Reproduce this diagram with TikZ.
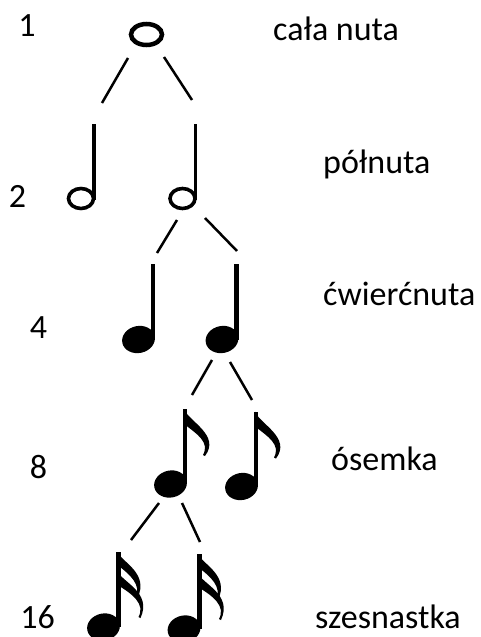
\documentclass[tikz,border=0pt]{standalone}
\usepackage{fontspec}
\setmainfont{Carlito}
\begin{document}
\begin{tikzpicture}[x=1pt,y=-1pt,
  lbl/.style={inner sep=0pt, font=\fontsize{34}{40}\selectfont},
  conn/.style={line width=2.5pt},
  hollowhead/.style={line width=#1},
  stemline/.style={line width=#1},
  filledhead/.style={rotate around={12:#1}},
  eighthflag/.pic={\fill (-1,0) .. controls (3,12) and (36,26) .. (20,47) -- (18,46) .. controls (25,33) and (12,25) .. (-1,15) -- cycle;},
  sixteenthflag/.pic={
    \fill (-1,0) .. controls (3,10) and (31,21) .. (19,46) -- (17,45) .. controls (23,33) and (12,23) .. (-1,13) -- cycle;
    \fill (-1,19) .. controls (3,30) and (34,40) .. (22,66) -- (20,65) .. controls (27,52) and (14,42) .. (-1,33) -- cycle;},
]
\useasboundingbox (0,0) rectangle (481,637);
\begin{scope}
\clip (0,0) rectangle (481,637);
% whole note
\coordinate (w) at (146.5,34.5);
\draw[hollowhead=4.5pt] (w) ellipse [x radius=15.5pt, y radius=10.5pt];
% half notes
\coordinate (h1) at (81,198.5);
\coordinate (h2) at (182.5,198.5);
\foreach \n in {h1,h2}{
  \draw[hollowhead=3.6pt] (\n) ellipse [x radius=12.5pt, y radius=10pt];
  \draw[stemline=3.5pt] (\n) ++(12.8,1) -- ++(0,-76);
}
% quarter notes
\coordinate (q1) at (138.5,339.5);
\coordinate (q2) at (222,339.5);
\foreach \n in {q1,q2}{
  \fill[filledhead=(\n)] (\n) ellipse [x radius=16.5pt, y radius=13.5pt];
  \draw[stemline=4.5pt] (\n) ++(14.5,0) -- ++(0,-76);
}
% eighth notes
\coordinate (e1) at (170.5,484);
\coordinate (e2) at (241.5,486.5);
\foreach \n in {e1,e2}{
  \fill[filledhead=(\n)] (\n) ellipse [x radius=16.5pt, y radius=13.5pt];
  \draw[stemline=4.5pt] (\n) ++(14.5,0) -- ++(0,-75);
  \path (\n) ++(14.5,-75) pic {eighthflag};
}
% sixteenth notes
\coordinate (s1) at (103.5,627);
\coordinate (s2) at (184,629);
\foreach \n in {s1,s2}{
  \fill[filledhead=(\n)] (\n) ellipse [x radius=16.5pt, y radius=13.5pt];
  \draw[stemline=5pt] (\n) ++(15,0) -- ++(0,-75);
  \path (\n) ++(15,-75) pic {sixteenthflag};
}
\end{scope}
% connectors
\coordinate (a1) at (128,58);  \coordinate (b1) at (102,103);
\coordinate (a2) at (164,57);  \coordinate (b2) at (192,100);
\coordinate (a3) at (177,220); \coordinate (b3) at (157,253);
\coordinate (a4) at (205,218); \coordinate (b4) at (237,251);
\coordinate (a5) at (212,360); \coordinate (b5) at (192,395);
\coordinate (a6) at (230,362); \coordinate (b6) at (252,400);
\coordinate (a7) at (159,503); \coordinate (b7) at (131,540);
\coordinate (a8) at (182,503); \coordinate (b8) at (200,542);
\foreach \i in {1,...,8}{ \draw[conn] (a\i) -- (b\i); }
% labels
\node[lbl, anchor=base] (n1) at (27,36) {1};
\node[lbl, anchor=base] (n2) at (17.5,207) {2};
\node[lbl, anchor=base] (n4) at (38.5,338) {4};
\node[lbl, anchor=base] (n8) at (38.5,478) {8};
\node[lbl, anchor=base] (n16) at (37.5,628) {16};
\node[lbl, anchor=base west] (t1) at (273,40) {cała nuta};
\node[lbl, anchor=base west] (t2) at (323,173) {półnuta};
\node[lbl, anchor=base west] (t4) at (323,305) {ćwierćnuta};
\node[lbl, anchor=base west] (t8) at (331,470) {ósemka};
\node[lbl, anchor=base west] (t16) at (315,628) {szesnastka};
\end{tikzpicture}
\end{document}
